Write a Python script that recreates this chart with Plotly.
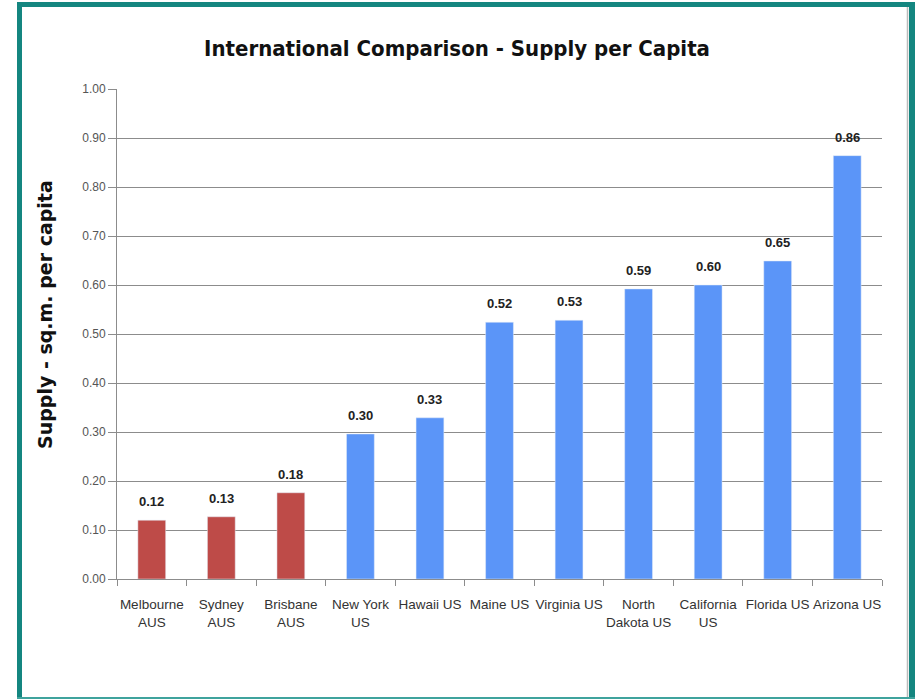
import plotly.graph_objects as go

categories = ["Melbourne<br>AUS", "Sydney<br>AUS", "Brisbane<br>AUS", "New York<br>US",
              "Hawaii US", "Maine US", "Virginia US", "North<br>Dakota US",
              "California<br>US", "Florida US", "Arizona US"]
values = [0.120, 0.127, 0.176, 0.296, 0.329, 0.524, 0.528, 0.592, 0.600, 0.649, 0.864]
bar_colors = ["#BE4B48"] * 3 + ["#5B95F8"] * 8
y_ticks = [0.0, 0.1, 0.2, 0.3, 0.4, 0.5, 0.6, 0.7, 0.8, 0.9, 1.0]

W, H = 915, 699
L, R, T, B = 117, 33, 89, 120
PW, PH = W - L - R, H - T - B


def px(x):
    return (x - L) / PW


def py(y):
    return (H - B - y) / PH


fig = go.Figure(go.Bar(
    x=categories, y=values, marker_color=bar_colors,
    cliponaxis=False, hoverinfo="x+y",
))

annotations = [
    dict(x=c, y=v, xref="x", yref="y", text=f"<b>{v:.2f}</b>", showarrow=False,
         yanchor="bottom", yshift=9,
         font=dict(size=13, color="#222222", family="Arial, Liberation Sans"))
    for c, v in zip(categories, values)
]
annotations.append(dict(
    x=px(45), y=py(315), xref="paper", yref="paper", text="<b>Supply - sq.m. per capita</b>",
    textangle=-90, showarrow=False, xanchor="center", yanchor="middle",
    font=dict(size=19, color="#111111", family="DejaVu Sans, Verdana")))

teal = "#148680"
shapes = [
    dict(type="rect", xref="paper", yref="paper", x0=px(17), x1=px(22), y0=py(699), y1=py(2),
         fillcolor=teal, line_width=0, layer="above"),
    dict(type="rect", xref="paper", yref="paper", x0=px(17), x1=px(915), y0=py(7), y1=py(2),
         fillcolor=teal, line_width=0, layer="above"),
    dict(type="rect", xref="paper", yref="paper", x0=px(909), x1=px(915), y0=py(699), y1=py(2),
         fillcolor=teal, line_width=0, layer="above"),
    dict(type="rect", xref="paper", yref="paper", x0=px(17), x1=px(915), y0=py(699), y1=py(697),
         fillcolor="#3FA39D", line_width=0, layer="above"),
    dict(type="line", xref="paper", yref="paper", x0=px(907.5), x1=px(907.5), y0=py(697), y1=py(7),
         line=dict(color="#BBBBBB", width=1.5), layer="above"),
]

fig.update_layout(
    width=W, height=H,
    margin=dict(l=L, r=R, t=T, b=B),
    paper_bgcolor="white", plot_bgcolor="white",
    bargap=0.6,
    showlegend=False,
    title=dict(text="<b>International Comparison - Supply per Capita</b>", x=457 / W, xref="container",
               xanchor="center", y=1 - 48 / H, yanchor="middle",
               font=dict(size=22, color="#111111", family="DejaVu Sans Condensed, Liberation Sans Narrow, Arial")),
    shapes=shapes,
    annotations=annotations,
    font=dict(family="Arial, Liberation Sans"),
)

fig.update_yaxes(
    range=[0, 1.0], tickvals=y_ticks, tickformat=".2f",
    showgrid=True, gridcolor="#8C8C8C", gridwidth=1,
    showline=True, linecolor="#8C8C8C", linewidth=1,
    ticks="outside", ticklen=8, tickcolor="#8C8C8C",
    tickfont=dict(size=12, color="#555555"),
    zeroline=False,
)
fig.update_xaxes(
    showline=True, linecolor="#8C8C8C", linewidth=1,
    ticks="outside", tickson="boundaries", ticklen=6, tickcolor="#8C8C8C",
    tickfont=dict(size=13.5, color="#333333"),
    tickangle=0, ticklabelstandoff=13,
)

fig.write_html("out.html")
